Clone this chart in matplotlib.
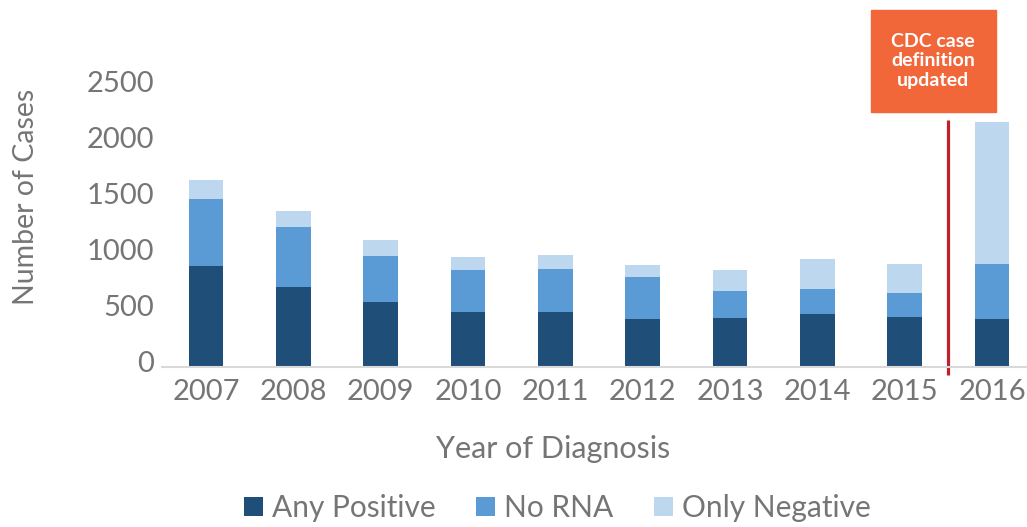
import numpy as np
import matplotlib
matplotlib.use("Agg")
import matplotlib.pyplot as plt
import matplotlib.transforms as mtrans
from matplotlib.patches import Rectangle

plt.rcParams['font.family'] = ['Lato', 'DejaVu Sans']

years = ["2007", "2008", "2009", "2010", "2011", "2012", "2013", "2014", "2015", "2016"]
any_positive = [899, 709, 575, 491, 488, 429, 438, 471, 446, 429]
no_rna = [598, 538, 416, 375, 384, 375, 235, 225, 215, 485]
only_negative = [170, 141, 138, 111, 128, 107, 193, 263, 253, 1268]

c_dark = "#1F4E79"
c_mid = "#5B9BD5"
c_light = "#BDD7EE"
grey = "#757575"

W, H = 1027, 527
fig = plt.figure(figsize=(W / 100, H / 100), dpi=100)
ax = fig.add_axes([162.3 / W, 1 - 366.7 / H, 873.4 / W, 280 / H])

x = np.arange(len(years))
a = np.array(any_positive)
b = np.array(no_rna)
c = np.array(only_negative)
bw = 0.4
ax.bar(x, a, bw, color=c_dark, label="Any Positive")
ax.bar(x, b, bw, bottom=a, color=c_mid, label="No RNA")
ax.bar(x, c, bw, bottom=a + b, color=c_light, label="Only Negative")

ax.set_xlim(-0.5, len(years) - 0.5)
ax.set_ylim(0, 2500)
ax.set_yticks([0, 500, 1000, 1500, 2000, 2500])
ax.set_xticks(x)
ax.set_xticklabels(years)
for s in ["top", "right", "left"]:
    ax.spines[s].set_visible(False)
ax.spines["bottom"].set_color("#D9D9D9")
ax.spines["bottom"].set_linewidth(1.5)
ax.tick_params(axis="both", length=0, labelsize=21, labelcolor=grey)
ax.tick_params(axis="x", pad=9)
ax.tick_params(axis="y", pad=6)

# y labels sit a little above their ticks in the original
shift = mtrans.ScaledTranslation(0, 5 / 100, fig.dpi_scale_trans)
for lab in ax.get_yticklabels():
    lab.set_transform(lab.get_transform() + shift)

ax.set_xlabel("Year of Diagnosis", fontsize=22, color=grey)
ax.xaxis.set_label_coords(0.447, -0.245)
ax.set_ylabel("Number of Cases", fontsize=20.5, color=grey)
ax.yaxis.set_label_coords(-0.141, 0.608)

# red divider before 2016
ax.vlines(8.5, -75, 2200, color="#C0202A", lw=2.3, clip_on=False)

# orange note box
fig.patches.append(Rectangle((871 / W, 1 - 112 / H), 125 / W, 102 / H,
                             transform=fig.transFigure, color="#F26739"))
fig.text(933 / W, 1 - 61 / H, "CDC case\ndefinition\nupdated", ha="center", va="center",
         color="white", fontsize=14, fontweight="bold", linespacing=1.2)

fig.legend(loc="center", bbox_to_anchor=(557.5 / W, 1 - 508 / H), ncol=3, frameon=False,
           fontsize=21.5, handlelength=0.64, handleheight=0.64, handletextpad=0.3,
           columnspacing=1.35, labelcolor=grey)

fig.savefig("out.png", dpi=100)
